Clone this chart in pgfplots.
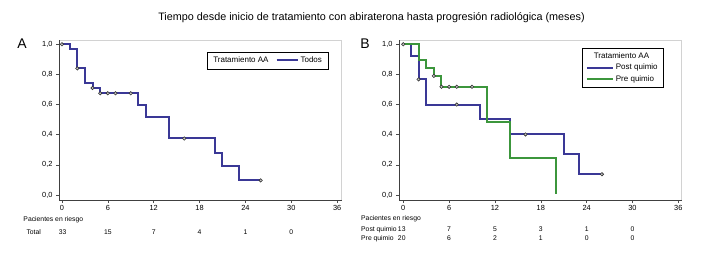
\documentclass[border=0pt]{standalone}
\usepackage{fontspec}
\setmainfont{Liberation Sans}
\usepackage{pgfplots}
\pgfplotsset{compat=1.18}
\definecolor{kmblue}{RGB}{58,56,150}
\definecolor{kmgreen}{RGB}{60,150,60}
\pgfplotsset{
 kmaxis/.style={
  scale only axis, width=282.7pt, height=159.5pt,
  ymin=-0.033, ymax=1.025,
  xtick={0,6,12,18,24,30,36},
  ytick={0,0.2,0.4,0.6,0.8,1.0},
  yticklabels={{0,0},{0,2},{0,4},{0,6},{0,8},{1,0}},
  tick pos=left, tick align=outside, major tick length=3pt,
  tick style={black!70, line width=0.5pt},
  axis line style={draw=gray!35, line width=0.6pt},
  ticklabel style={font=\fontsize{7.4}{8}\selectfont},
  xticklabel style={yshift=1pt},
  /pgf/number format/assume math mode=true,
  clip=false,
  legend style={font=\fontsize{8}{9.5}\selectfont, draw=black, inner sep=2.5pt},
  legend cell align=left,
  after end axis/.code={\draw[black!75, line width=0.6pt] (rel axis cs:0,1) -- (rel axis cs:0,0) -- (rel axis cs:1,0);},
 },
 km/.style={const plot, no marks, line width=2pt},
 cens/.style={only marks, mark=*, mark size=1.7pt, mark options={draw=black!80, fill=gray!45, line width=0.6pt}, forget plot},
}
\newcommand{\tf}{\fontsize{6.8}{7.5}\selectfont}
\begin{document}
\begin{tikzpicture}
\path[use as bounding box] (0,0) rectangle (715pt,260pt);
\node[font=\fontsize{10.8}{12}\selectfont] at (371.5pt,242pt) {Tiempo desde inicio de tratamiento con abiraterona hasta progresión radiológica (meses)};
\node[font=\fontsize{14}{16}\selectfont] at (22pt,216pt) {A};
\node[font=\fontsize{14}{16}\selectfont] at (365pt,216.5pt) {B};
% Panel A
\begin{axis}[kmaxis, at={(59pt,60pt)}, anchor=south west,
  xmin=-0.39, xmax=36.6,
  legend columns=2,
  legend style={at={(0.952,0.931)}, anchor=north east, inner xsep=4pt, inner ysep=3pt, /tikz/every even column/.append style={column sep=5pt}}]
\addlegendimage{empty legend}
\addlegendentry{Tratamiento AA}
\addplot[km, kmblue, legend image code/.code={\draw[kmblue, line width=2pt] (0pt,0pt) -- (21pt,0pt);}] coordinates {(0,1) (1,0.97) (2,0.84) (3,0.745) (4,0.71) (5,0.675) (10,0.595) (11,0.52) (14,0.375) (20,0.28) (21,0.19) (23.1,0.097) (26,0.097)};
\addlegendentry{Todos}
\addplot[cens] coordinates {(0,1) (2,0.84) (4,0.71) (5,0.675) (6,0.675) (7,0.675) (9,0.675) (16,0.375) (26,0.097)};
\node[anchor=west, font=\tf] at (axis cs:-5.5,-0.163) {Pacientes en riesgo};
\node[anchor=west, font=\tf] at (axis cs:-5.1,-0.244) {Total};
\node[font=\tf] at (axis cs:0.1,-0.244) {33};
\node[font=\tf] at (axis cs:6,-0.244) {15};
\node[font=\tf] at (axis cs:12,-0.244) {7};
\node[font=\tf] at (axis cs:18,-0.244) {4};
\node[font=\tf] at (axis cs:24,-0.244) {1};
\node[font=\tf] at (axis cs:30,-0.244) {0};
\end{axis}
% Panel B
\begin{axis}[kmaxis, at={(399pt,60pt)}, anchor=south west,
  xmin=-0.56, xmax=36.44,
  legend columns=1,
  legend style={at={(0.937,0.956)}, anchor=north east, inner xsep=4pt, inner ysep=2.5pt, row sep=0.5pt}]
\addlegendimage{empty legend}
\addlegendentry{\hspace*{-22pt}Tratamiento AA}
\addplot[km, kmblue, legend image code/.code={\draw[kmblue, line width=2pt] (0pt,0pt) -- (26pt,0pt);}] coordinates {(0,1) (1,0.92) (2,0.767) (3,0.6) (10,0.503) (14,0.402) (21,0.27) (23,0.138) (26,0.138)};
\addlegendentry{Post quimio}
\addplot[km, kmgreen, legend image code/.code={\draw[kmgreen, line width=2pt] (0pt,0pt) -- (26pt,0pt);}] coordinates {(0,1) (2,0.893) (3,0.842) (4,0.79) (5,0.718) (11,0.482) (14,0.243) (20,0.01)};
\addlegendentry{Pre quimio}
\addplot[cens] coordinates {(0,1) (2,0.767) (7,0.6) (16,0.402) (26,0.138)};
\addplot[cens] coordinates {(4,0.79) (5,0.718) (6,0.718) (7,0.718) (9,0.718)};
\node[anchor=west, font=\tf] at (axis cs:-5.97,-0.159) {Pacientes en riesgo};
\node[anchor=west, font=\tf] at (axis cs:-5.97,-0.228) {Post quimio};
\node[anchor=west, font=\tf] at (axis cs:-5.97,-0.288) {Pre quimio};
\node[font=\tf] at (axis cs:-0.2,-0.228) {13};
\node[font=\tf] at (axis cs:6,-0.228) {7};
\node[font=\tf] at (axis cs:12,-0.228) {5};
\node[font=\tf] at (axis cs:18,-0.228) {3};
\node[font=\tf] at (axis cs:24,-0.228) {1};
\node[font=\tf] at (axis cs:30,-0.228) {0};
\node[font=\tf] at (axis cs:-0.2,-0.288) {20};
\node[font=\tf] at (axis cs:6,-0.288) {6};
\node[font=\tf] at (axis cs:12,-0.288) {2};
\node[font=\tf] at (axis cs:18,-0.288) {1};
\node[font=\tf] at (axis cs:24,-0.288) {0};
\node[font=\tf] at (axis cs:30,-0.288) {0};
\end{axis}
\end{tikzpicture}
\end{document}
